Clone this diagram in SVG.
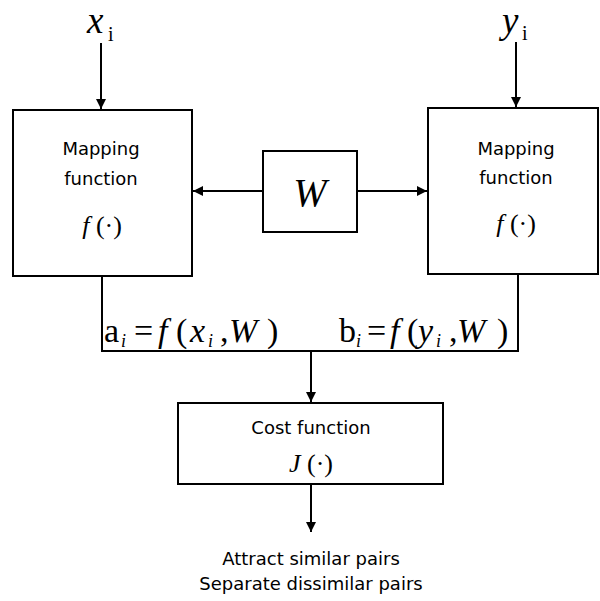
<svg xmlns="http://www.w3.org/2000/svg" width="600" height="601" viewBox="0 0 600 601">
<defs>
<marker id="ah" markerWidth="10" markerHeight="10" refX="10" refY="5" orient="auto" markerUnits="userSpaceOnUse">
<path d="M0,0 L10,5 L0,10 z" fill="#000"/>
</marker>
<style>
.box{fill:#fff;stroke:#000;stroke-width:2}
.ln{fill:none;stroke:#000;stroke-width:2}
.sans{font-family:"DejaVu Sans",Tahoma,Verdana,sans-serif;font-size:18px;fill:#000}
.ser{font-family:"Liberation Serif","Times New Roman",serif;fill:#000}
.it{font-style:italic}
</style>
</defs>
<rect width="600" height="601" fill="#fff"/>
<g id="connectors">
<line class="ln" x1="101" y1="43" x2="101" y2="109" marker-end="url(#ah)"/>
<line class="ln" x1="516" y1="42" x2="516" y2="107" marker-end="url(#ah)"/>
<line class="ln" x1="263" y1="191" x2="193" y2="191" marker-end="url(#ah)"/>
<line class="ln" x1="357" y1="191" x2="427" y2="191" marker-end="url(#ah)"/>
<polyline class="ln" points="102,276 102,351 518,351 518,274"/>
<line class="ln" x1="311" y1="351" x2="311" y2="402" marker-end="url(#ah)"/>
<line class="ln" x1="311" y1="484" x2="311" y2="532" marker-end="url(#ah)"/>
</g>
<g id="xi">
<text class="ser" x="87" y="33" font-size="37"><tspan class="it">x</tspan><tspan font-size="20" x="108" y="41">i</tspan></text>
</g>
<g id="yi">
<text class="ser" x="502" y="33" font-size="37"><tspan class="it">y</tspan><tspan font-size="20" x="522" y="40">i</tspan></text>
</g>
<g id="map-left">
<rect class="box" x="13" y="110" width="179" height="166"/>
<text class="sans" x="101" y="155" text-anchor="middle">Mapping</text>
<text class="sans" x="101" y="185" text-anchor="middle">function</text>
<text class="ser" x="102" y="234" text-anchor="middle" font-size="26"><tspan class="it">f</tspan> (·)</text>
</g>
<g id="map-right">
<rect class="box" x="428" y="108" width="170" height="166"/>
<text class="sans" x="516" y="155" text-anchor="middle">Mapping</text>
<text class="sans" x="516" y="184" text-anchor="middle">function</text>
<text class="ser" x="516" y="232" text-anchor="middle" font-size="26"><tspan class="it">f</tspan> (·)</text>
</g>
<g id="w">
<rect class="box" x="263" y="151" width="94" height="81"/>
<text class="ser it" x="310" y="206" text-anchor="middle" font-size="40">W</text>
</g>
<g id="eq-a">
<text class="ser" y="342" font-size="34"><tspan x="104">a</tspan><tspan class="it" font-size="18" x="121" y="347">i</tspan><tspan x="134" y="342">=</tspan><tspan class="it" x="158">f</tspan><tspan x="176">(</tspan><tspan class="it" x="190">x</tspan><tspan class="it" font-size="18" x="208" y="347">i</tspan><tspan x="220" y="342">,</tspan><tspan class="it" x="229">W</tspan><tspan x="267">)</tspan></text>
</g>
<g id="eq-b">
<text class="ser" y="342" font-size="34"><tspan x="339">b</tspan><tspan class="it" font-size="18" x="356" y="347">i</tspan><tspan x="367" y="342">=</tspan><tspan class="it" x="390">f</tspan><tspan x="407">(</tspan><tspan class="it" x="418">y</tspan><tspan class="it" font-size="18" x="436" y="347">i</tspan><tspan x="449" y="342">,</tspan><tspan class="it" x="457">W</tspan><tspan x="497">)</tspan></text>
</g>
<g id="cost">
<rect class="box" x="178" y="403" width="265" height="81"/>
<text class="sans" x="311" y="434" text-anchor="middle">Cost function</text>
<text class="ser" x="311" y="472" text-anchor="middle" font-size="26"><tspan class="it">J</tspan> (·)</text>
</g>
<g id="output">
<text class="sans" x="311" y="565" text-anchor="middle">Attract similar pairs</text>
<text class="sans" x="311" y="590" text-anchor="middle">Separate dissimilar pairs</text>
</g>
</svg>
